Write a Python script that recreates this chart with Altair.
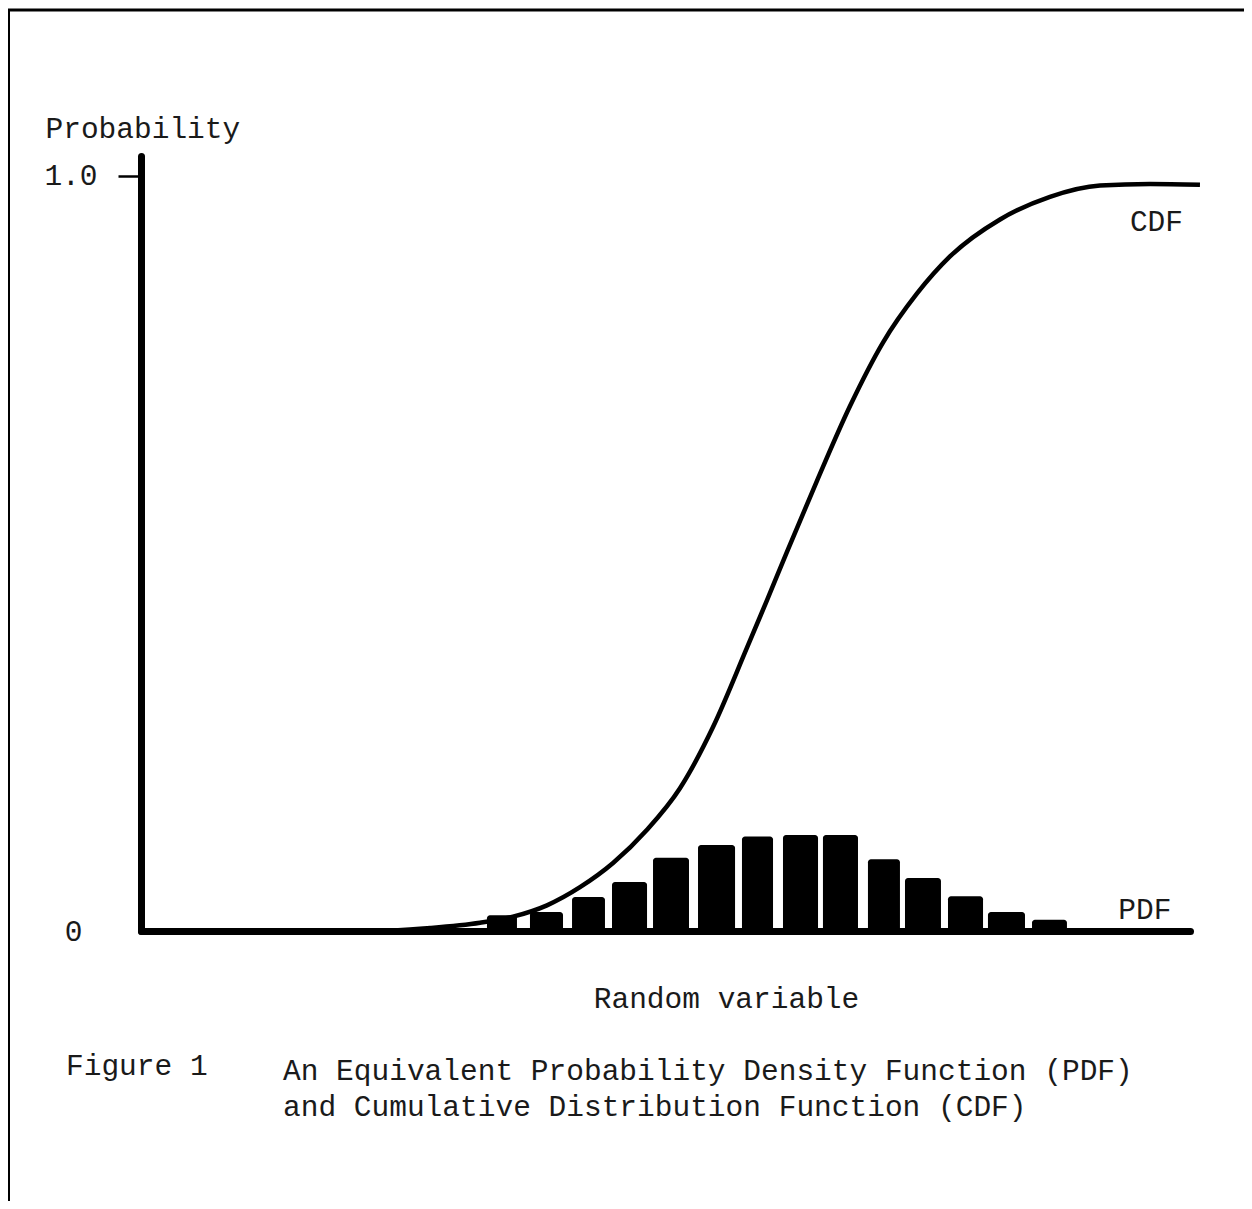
import altair as alt
import pandas as pd

# PDF histogram bins (random variable units) and heights (probability)
bin_lo = [32.98, 37.08, 41.09, 44.90, 48.81, 53.10, 57.29, 61.20, 65.01, 69.30, 72.83, 76.93, 80.74, 84.94]
bin_hi = [35.84, 40.23, 44.23, 48.24, 52.24, 56.63, 60.25, 64.54, 68.35, 72.35, 76.26, 80.27, 84.27, 88.27]
pdf_p = [0.021, 0.025, 0.045, 0.065, 0.097, 0.114, 0.125, 0.127, 0.127, 0.095, 0.070, 0.046, 0.025, 0.015]

# CDF curve
cdf_x = [0, 15.16, 22.78, 27.55, 32.32, 35.46, 38.70, 41.85, 45.00, 48.24, 51.38, 54.53, 57.77,
         59.68, 61.58, 64.44, 67.59, 70.73, 73.98, 77.12, 81.89, 86.65, 91.42, 96.19, 100.95]
cdf_p = [0, 0.0, 0.0, 0.004, 0.011, 0.019, 0.034, 0.058, 0.090, 0.134, 0.189, 0.270, 0.375,
         0.438, 0.502, 0.596, 0.695, 0.779, 0.844, 0.893, 0.942, 0.972, 0.987, 0.989, 0.988]

y_ticks = [0, 1.0]

FONT = "Liberation Mono"
FS = 29.5
INK = "#1a1a1a"

bars_df = pd.DataFrame({"lo": bin_lo, "hi": bin_hi, "p": pdf_p})
cdf_df = pd.DataFrame({"x": cdf_x, "p": cdf_p})
labels_df = pd.DataFrame({"x": [96.8, 95.7], "p": [0.939, 0.028], "t": ["CDF", "PDF"]})

xscale = alt.Scale(domain=[0, 100], nice=False, zero=False)
yscale = alt.Scale(domain=[0, 1.026], nice=False)

xaxis = alt.Axis(domain=True, domainWidth=7, domainColor="black", domainCap="round",
                 ticks=False, labels=False, grid=False,
                 title="Random variable", titleFont=FONT, titleFontSize=FS,
                 titleFontWeight="normal", titleColor=INK,
                 titleX=585, titleY=67, titleAlign="center", titleBaseline="middle")
yaxis = alt.Axis(values=y_ticks, domain=True, domainWidth=7, domainColor="black", domainCap="round",
                 ticks=True, tickSize=23, tickWidth=2.5, tickColor="black",
                 tickOpacity={"condition": {"test": "datum.value === 0", "value": 0}, "value": 1},
                 labelPadding={"condition": {"test": "datum.value === 0", "value": 36}, "value": 21},
                 labelExpr="datum.value === 0 ? '0' : '1.0'",
                 labelFont=FONT, labelFontSize=FS, labelColor=INK, grid=False,
                 title="Probability", titleFont=FONT, titleFontSize=FS, titleFontWeight="normal",
                 titleColor=INK, titleAngle=0, titleX=-96, titleY=-28,
                 titleAlign="left", titleBaseline="middle")

bars = alt.Chart(bars_df).mark_bar(color="black", cornerRadiusTopLeft=3, cornerRadiusTopRight=3).encode(
    x=alt.X("lo:Q", scale=xscale, axis=xaxis),
    x2="hi:Q",
    y=alt.Y("p:Q", scale=yscale, axis=yaxis),
    y2=alt.datum(0),
)

cdf = alt.Chart(cdf_df).mark_line(color="black", strokeWidth=4.5, interpolate="monotone").encode(
    x=alt.X("x:Q", scale=xscale),
    y=alt.Y("p:Q", scale=yscale),
)

lbls = alt.Chart(labels_df).mark_text(font=FONT, fontSize=FS, color=INK, align="center", baseline="middle").encode(
    x=alt.X("x:Q", scale=xscale),
    y=alt.Y("p:Q", scale=yscale),
    text="t:N",
)

cap_df = pd.DataFrame({
    "t": ["Figure 1", "An Equivalent Probability Density Function (PDF)", "and Cumulative Distribution Function (CDF)"],
    "px": [-75, 142, 142],
    "py": [910, 915, 951],
})
caption = alt.Chart(cap_df).mark_text(font=FONT, fontSize=FS, color=INK, align="left", baseline="middle").encode(
    x=alt.X("px:Q", scale=None),
    y=alt.Y("py:Q", scale=None),
    text="t:N",
)

border_top = alt.Chart(pd.DataFrame({"a": [0]})).mark_rule(color="black", strokeWidth=3).encode(
    x=alt.value(-133), x2=alt.value(1111), y=alt.value(-146)
)
border_left = alt.Chart(pd.DataFrame({"a": [0]})).mark_rule(color="black", strokeWidth=2).encode(
    x=alt.value(-132), y=alt.value(-147), y2=alt.value(1053)
)

chart = alt.layer(bars, cdf, lbls, caption, border_top, border_left).properties(
    width=1049, height=775,
    autosize=alt.AutoSizeParams(type="none"),
    padding={"left": 133, "top": 148, "right": 54, "bottom": 270},
    background="white",
).configure_view(stroke=None)

chart.save("out.html", embed_options={"renderer": "svg", "actions": False})
